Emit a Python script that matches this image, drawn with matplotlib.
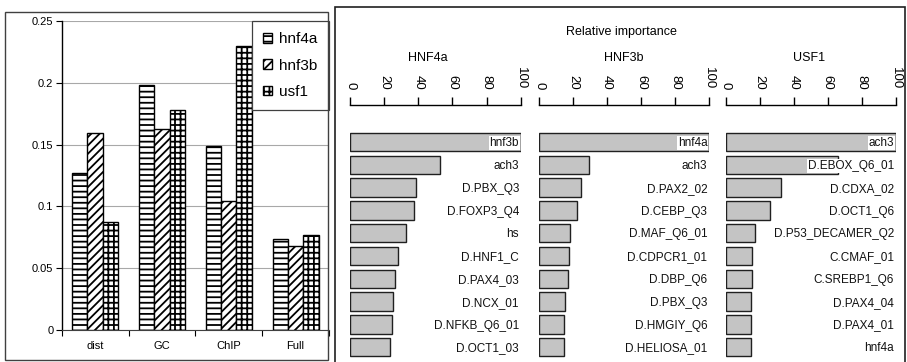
import matplotlib
matplotlib.use("Agg")
import matplotlib.pyplot as plt
from matplotlib import font_manager
from matplotlib.patches import Rectangle
import numpy as np

# ---- left panel: error rates per feature set ----
categories = ["dist", "GC", "ChIP", "Full"]
series_names = ["hnf4a", "hnf3b", "usf1"]
hnf4a_vals = [0.127, 0.198, 0.149, 0.074]
hnf3b_vals = [0.159, 0.163, 0.104, 0.068]
usf1_vals = [0.087, 0.178, 0.230, 0.077]
y_ticks = [0, 0.05, 0.1, 0.15, 0.2, 0.25]
y_tick_labels = ["0", "0.05", "0.1", "0.15", "0.2", "0.25"]

# ---- right panel: relative importance of top features ----
panel_titles = ["HNF4a", "HNF3b", "USF1"]
hnf4a_features = ["hnf3b", "ach3", "D.PBX_Q3", "D.FOXP3_Q4", "hs", "D.HNF1_C",
                  "D.PAX4_03", "D.NCX_01", "D.NFKB_Q6_01", "D.OCT1_03"]
hnf4a_importance = [100, 53, 38.7, 37.5, 32.6, 28.3, 26.4, 25.0, 24.4, 23.4]
hnf3b_features = ["hnf4a", "ach3", "D.PAX2_02", "D.CEBP_Q3", "D.MAF_Q6_01",
                  "D.CDPCR1_01", "D.DBP_Q6", "D.PBX_Q3", "D.HMGIY_Q6", "D.HELIOSA_01"]
hnf3b_importance = [100, 29.3, 24.4, 22.4, 18.1, 17.5, 16.9, 14.9, 14.4, 14.4]
usf1_features = ["ach3", "D.EBOX_Q6_01", "D.CDXA_02", "D.OCT1_Q6", "D.P53_DECAMER_Q2",
                 "C.CMAF_01", "C.SREBP1_Q6", "D.PAX4_04", "D.PAX4_01", "hnf4a"]
usf1_importance = [100, 66.3, 32.3, 26.0, 17.0, 15.3, 15.3, 14.7, 14.7, 14.7]
imp_ticks = [0, 20, 40, 60, 80, 100]

W, H = 907, 362
available = {f.name for f in font_manager.fontManager.ttflist}
base_font = "Liberation Sans" if "Liberation Sans" in available else "DejaVu Sans"
narrow_font = "Liberation Sans Narrow" if "Liberation Sans Narrow" in available else base_font
plt.rcParams["font.family"] = [base_font, "DejaVu Sans"]
plt.rcParams["hatch.linewidth"] = 1.3

fig = plt.figure(figsize=(W / 100, H / 100), dpi=100)


def px_axes(x0, y0, x1, y1):
    """Axes placed by pixel box (top-left origin)."""
    return fig.add_axes([x0 / W, 1 - y1 / H, (x1 - x0) / W, (y1 - y0) / H])


# frames around the two panels
fig.patches.append(Rectangle((5 / W, 1 - 360 / H), (328 - 5) / W, (360 - 11.7) / H,
                             transform=fig.transFigure, fill=False, ec="#404040", lw=1.0))
fig.patches.append(Rectangle((335 / W, -0.05), (904.5 - 335) / W, 1.05 - 6.5 / H,
                             transform=fig.transFigure, fill=False, ec="#202020", lw=1.2))

# ---------- grouped hatched bars ----------
ax = px_axes(61.7, 21, 329, 330)
x = np.arange(len(categories))
bw = 0.23
hatches = ["---", "////", "+++"]
for i, (name, vals, h) in enumerate(zip(series_names, [hnf4a_vals, hnf3b_vals, usf1_vals], hatches)):
    ax.bar(x + (i - 1) * bw, vals, width=bw, color="white", edgecolor="black",
           linewidth=1.0, hatch=h, label=name, zorder=3)
ax.set_xlim(-0.5, len(categories) - 0.5)
ax.set_ylim(0, 0.25)
ax.set_yticks(y_ticks)
ax.set_yticklabels(y_tick_labels, fontsize=8)
ax.yaxis.grid(True, color="#a8a8a8", lw=0.8, zorder=0)
ax.set_xticks(np.arange(len(categories) + 1) - 0.5)
ax.set_xticklabels([])
ax.set_xticks(x, minor=True)
ax.set_xticklabels(categories, minor=True, fontsize=8)
ax.tick_params(axis="x", which="minor", length=0, pad=8)
ax.tick_params(axis="x", which="major", length=4, direction="out")
ax.tick_params(axis="y", length=4, pad=2)
for s in ["top", "right"]:
    ax.spines[s].set_visible(False)
ax.spines["left"].set_linewidth(1.0)
ax.spines["bottom"].set_color("#404040")
leg = ax.legend(loc="upper right", bbox_to_anchor=(1.0, 1.0), borderaxespad=0,
                fontsize=11, fancybox=False, edgecolor="#404040", framealpha=1,
                handlelength=0.6, handleheight=0.6, handletextpad=0.45,
                labelspacing=0.8, borderpad=0.75)
leg.get_frame().set_linewidth(0.9)

# ---------- relative importance panels ----------
panel_x = [(350, 520.7), (539.3, 709), (725.7, 895.7)]
features = [hnf4a_features, hnf3b_features, usf1_features]
importance = [hnf4a_importance, hnf3b_importance, usf1_importance]
row_px = 22.8
first_center = 142
top_px = 105
title_x = [428, 624, 809]
for (x0, x1), tx, title, feats, vals in zip(panel_x, title_x, panel_titles, features, importance):
    a = px_axes(x0, top_px, x1, H)
    yy = np.arange(len(feats))
    a.barh(yy, vals, height=0.81, color="#c4c4c4", edgecolor="#202020", linewidth=1.0)
    a.set_xlim(0, 100)
    a.set_ylim((H - first_center) / row_px, (top_px - first_center) / row_px)
    a.set_yticks([])
    a.xaxis.tick_top()
    a.set_xticks(imp_ticks)
    a.set_xticklabels([str(t) for t in imp_ticks], rotation=270, fontsize=9.5,
                      family=[narrow_font, "DejaVu Sans"])
    a.tick_params(axis="x", length=6, width=1.0, pad=5)
    for s in ["left", "right", "bottom"]:
        a.spines[s].set_visible(False)
    a.spines["top"].set_linewidth(1.0)
    a.patch.set_alpha(0)
    for yi, label in zip(yy, feats):
        a.text(99, yi + 0.05, label, ha="right", va="center", fontsize=8.5,
               family=[narrow_font, "DejaVu Sans"], color="#111111",
               bbox=dict(facecolor="white", edgecolor="none", pad=0.6))
    fig.text(tx / W, 1 - 58 / H, title, ha="center", va="center",
             fontsize=9, family=[narrow_font, "DejaVu Sans"])

fig.text(621 / W, 1 - 32 / H, "Relative importance", ha="center", va="center",
         fontsize=9, family=[narrow_font, "DejaVu Sans"])

fig.savefig("out.png", dpi=100)
